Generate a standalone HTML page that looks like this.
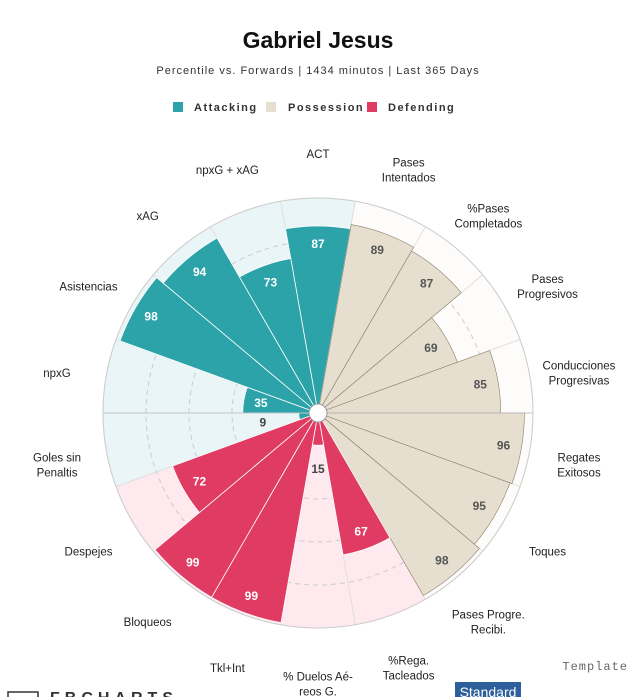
<!DOCTYPE html>
<html><head><meta charset="utf-8"><style>
body{margin:0;background:#fff;width:636px;height:697px;overflow:hidden;font-family:"Liberation Sans",sans-serif;}
</style></head><body>
<svg id="c" width="636" height="697" style="position:absolute;left:0;top:0">
<text x="318" y="48" text-anchor="middle" font-size="23" font-weight="bold" fill="#111">Gabriel Jesus</text>
<text x="318" y="74" text-anchor="middle" font-size="11" letter-spacing="1" fill="#333">Percentile vs. Forwards | 1434 minutos | Last 365 Days</text>
<g font-size="11" font-weight="bold" letter-spacing="1.5" fill="#333">
<rect x="173" y="102" width="10" height="10" fill="#2ba3a8"/>
<text x="194" y="111">Attacking</text>
<rect x="266" y="102" width="10" height="10" fill="#e6dfcf"/>
<text x="288" y="111">Possession</text>
<rect x="367" y="102" width="10" height="10" fill="#e03c63"/>
<text x="388" y="111">Defending</text>
</g>
<g id="pz"></g>
<text x="628" y="670" text-anchor="end" font-size="12" letter-spacing="1" fill="#666" font-family="Liberation Mono,monospace">Template</text>
<rect x="455" y="682" width="66" height="20" fill="#2d5f9a"/>
<text x="488" y="697" text-anchor="middle" font-size="14" fill="#fff">Standard</text>
<g>
<rect x="8" y="692" width="30" height="10" fill="none" stroke="#333" stroke-width="1.5"/>
<text x="50" y="703" font-size="16" letter-spacing="5" fill="#333" font-weight="bold">FBCHARTS</text>
</g>
</svg>
<script>
const labels=["ACT","Pases|Intentados","%Pases|Completados","Pases|Progresivos","Conducciones|Progresivas","Regates|Exitosos","Toques","Pases Progre.|Recibi.","%Rega.|Tacleados","% Duelos Aé-|reos G.","Tkl+Int","Bloqueos","Despejes","Goles sin|Penaltis","npxG","Asistencias","xAG","npxG + xAG"];
const values=[87,89,87,69,85,96,95,98,67,15,99,99,72,9,35,98,94,73];
const groups=["a","p","p","p","p","p","p","p","d","d","d","d","d","a","a","a","a","a"];
const cx=318,cy=413,R=215,N=labels.length;
const bar={a:"#2ba3a8",p:"#e6dfcf",d:"#e03c63"};
const bg={a:"#e9f5f6",p:"#fdfcfa",d:"#fde9ee"};
const txt={a:"#fff",p:"#555",d:"#fff"};
const ns="http://www.w3.org/2000/svg";
const g=document.getElementById("pz");
function pt(r,deg){const a=deg*Math.PI/180;return [cx+r*Math.cos(a),cy-r*Math.sin(a)];}
function wedge(r,a0,a1){const p0=pt(r,a0),p1=pt(r,a1);return `M${cx},${cy}L${p0[0]},${p0[1]}A${r},${r} 0 0 1 ${p1[0]},${p1[1]}Z`;}
function mk(tag,attrs){const e=document.createElementNS(ns,tag);for(const k in attrs)e.setAttribute(k,attrs[k]);g.appendChild(e);return e;}
const step=360/N;
for(let i=0;i<N;i++){
 const c=90-i*step,a0=c+step/2,a1=c-step/2,gr=groups[i];
 const b=mk("path",{d:wedge(R,a0,a1),fill:bg[gr],stroke:"#ddd","stroke-width":"0.8"});
 
 
}
for(const f of [0.4,0.6,0.8]){
 const c=mk("circle",{cx:cx,cy:cy,r:R*f,fill:"none",stroke:"#ccc","stroke-dasharray":"5,4","stroke-width":"1"});
 
 
}
for(let i=0;i<N;i++){
 const c=90-i*step,a0=c+step/2,a1=c-step/2,gr=groups[i],v=values[i],r=R*v/100;
 const b=mk("path",{d:wedge(r,a0,a1),fill:bar[gr],stroke:gr=="p"?"#8a7f6a":"#fff","stroke-width":gr=="p"?"0.6":"0.8"});
 
 
 const inside=r>=62;
 const lr=inside?Math.max(r-18,58):Math.max(r+14,56);const p=pt(lr,c);
 const t=mk("text",{x:p[0],y:p[1]+4,"text-anchor":"middle","font-size":"12","font-weight":"bold",fill:inside?txt[gr]:"#444"});
 t.textContent=v;
 
 
 const q=pt(265,c);q[1]+=6;const lines=labels[i].split("|");
 const lt=mk("text",{x:q[0],y:q[1]+4-(lines.length-1)*7.5,"text-anchor":"middle","font-size":"11.5",fill:"#222"});
 lines.forEach((s,j)=>{const ts=document.createElementNS(ns,"tspan");ts.setAttribute("x",q[0]);ts.setAttribute("dy",j?15:0);ts.textContent=s;lt.appendChild(ts);});
 
 
}
const ol=mk("circle",{cx:cx,cy:cy,r:R,fill:"none",stroke:"#ccc","stroke-width":"1"});


const hl=mk("line",{x1:cx-R,y1:cy,x2:cx+R,y2:cy,stroke:"#bbb","stroke-width":"0.8"});


const hc=mk("circle",{cx:cx,cy:cy,r:9,fill:"#fff",stroke:"#999","stroke-width":"1"});


</script>
</body></html>
